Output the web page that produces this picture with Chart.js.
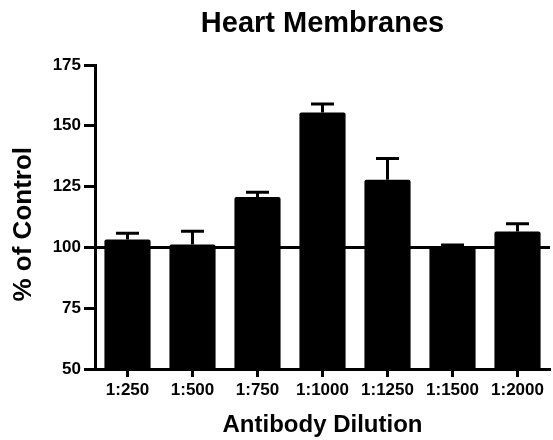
<!DOCTYPE html>
<html>
<head>
<meta charset="utf-8">
<script src="https://cdn.jsdelivr.net/npm/chart.js@4"></script>
<style>
  html, body { margin: 0; padding: 0; background: #fff; }
</style>
</head>
<body>
<canvas id="heartChart" width="553" height="440"></canvas>
<script>
// values
const categories = ['1:250', '1:500', '1:750', '1:1000', '1:1250', '1:1500', '1:2000'];
const meanValues = [103.2, 101.2, 120.7, 155.5, 127.8, 100.6, 106.5];
const errorValues = [2.6, 5.4, 2.0, 3.5, 8.8, 0.4, 3.2];
const yTickValues = [50, 75, 100, 125, 150, 175];
const controlLevel = 100;

const FONT = "'Liberation Sans', Arial, sans-serif";

// error bars (upper only) + the 100% control line
const extrasPlugin = {
    id: 'extras',
    afterDatasetsDraw(chart) {
        const ctx = chart.ctx;
        const x = chart.scales.x;
        const y = chart.scales.y;
        ctx.save();
        ctx.strokeStyle = '#000';
        ctx.lineWidth = 3;

        // control line
        const yc = y.getPixelForValue(controlLevel);
        ctx.beginPath();
        ctx.moveTo(x.left, yc);
        ctx.lineTo(x.right, yc);
        ctx.stroke();

        // error bars
        const meta = chart.getDatasetMeta(0);
        meta.data.forEach((bar, i) => {
            const top = y.getPixelForValue(meanValues[i] + errorValues[i]);
            const half = 11.5;
            ctx.beginPath();
            ctx.moveTo(bar.x, bar.y);
            ctx.lineTo(bar.x, top);
            ctx.moveTo(bar.x - half, top);
            ctx.lineTo(bar.x + half, top);
            ctx.stroke();
        });
        ctx.restore();
    }
};

const ctx = document.getElementById('heartChart').getContext('2d');
const heartChart = new Chart(ctx, {
    type: 'bar',
    data: {
        labels: categories,
        datasets: [{
            data: meanValues,
            base: yTickValues[0],
            backgroundColor: '#000',
            borderColor: '#000',
            borderWidth: 0,
            borderRadius: 2,
            borderSkipped: 'bottom',
            barPercentage: 0.71,
            categoryPercentage: 1.0
        }]
    },
    options: {
        responsive: false,
        animation: false,
        layout: { padding: { top: 7, right: 3, bottom: 0, left: 0 } },
        plugins: {
            legend: { display: false },
            tooltip: { enabled: false },
            title: {
                display: true,
                text: 'Heart Membranes',
                fullSize: false,
                color: '#000',
                font: { family: FONT, size: 29, weight: 'bold' },
                padding: { top: 0, bottom: 23.2 }
            }
        },
        scales: {
            x: {
                offset: true,
                grid: {
                    offset: false,
                    drawOnChartArea: false,
                    tickLength: 8,
                    tickWidth: 3,
                    tickColor: '#000'
                },
                border: { display: true, color: '#000', width: 3 },
                ticks: {
                    color: '#000',
                    padding: 3,
                    maxRotation: 0,
                    autoSkip: false,
                    font: { family: FONT, size: 17, weight: 'bold' }
                },
                title: {
                    display: true,
                    text: 'Antibody Dilution',
                    color: '#000',
                    font: { family: FONT, size: 24, weight: 'bold' },
                    padding: { top: 12, bottom: 0 }
                },
                afterFit: (scale) => { scale.height = 71; }
            },
            y: {
                min: yTickValues[0],
                max: yTickValues[yTickValues.length - 1],
                afterBuildTicks: (scale) => { scale.ticks = yTickValues.map(v => ({ value: v })); },
                grid: {
                    drawOnChartArea: false,
                    tickLength: 11,
                    tickWidth: 3,
                    tickColor: '#000'
                },
                border: { display: true, color: '#000', width: 3 },
                ticks: {
                    color: '#000',
                    padding: 3,
                    font: { family: FONT, size: 17, weight: 'bold' }
                },
                title: {
                    display: true,
                    text: '% of Control  ',
                    color: '#000',
                    font: { family: FONT, size: 26, weight: 'bold' },
                    padding: { top: 8, bottom: 10 }
                },
                afterFit: (scale) => { scale.width = 95; }
            }
        }
    },
    plugins: [extrasPlugin]
});
</script>
</body>
</html>
